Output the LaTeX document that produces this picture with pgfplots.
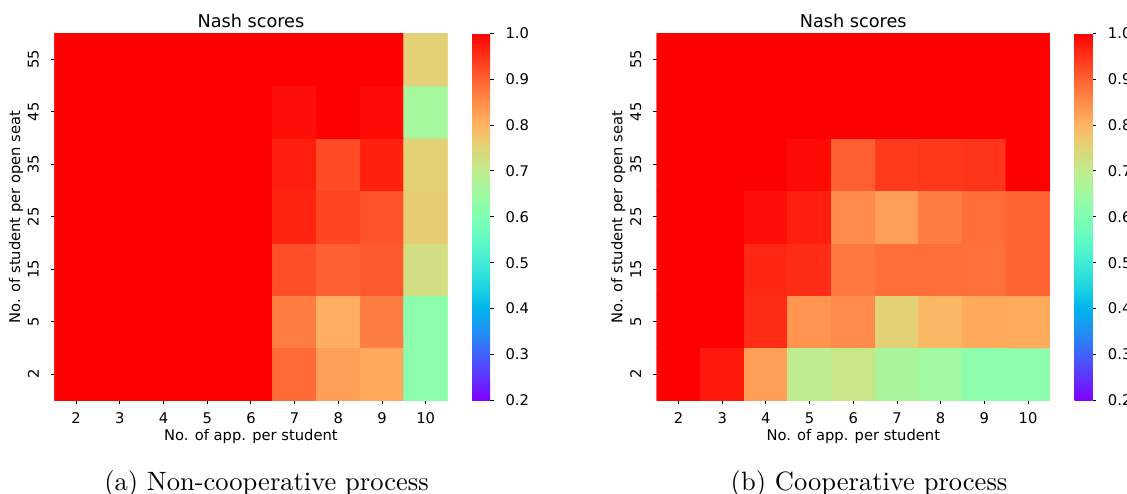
\documentclass[border=0pt]{standalone}
\usepackage{fontspec}
\usepackage{pgfplots}
\pgfplotsset{compat=1.18}
\usepackage{pgfplotstable}
\newfontfamily\dv{DejaVu Sans}
\newcommand\tickfont{\dv\fontsize{5.55}{6.5}\selectfont}
\newcommand\titlefont{\dv\fontsize{6.66}{8}\selectfont}

\pgfplotstableread{
x y c
0 0 1
1 0 1
2 0 1
3 0 1
4 0 1
5 0 0.889
6 0 0.827
7 0 0.814
8 0 0.620
0 1 1
1 1 1
2 1 1
3 1 1
4 1 1
5 1 0.869
6 1 0.807
7 1 0.869
8 1 0.620
0 2 1
1 2 1
2 2 1
3 2 1
4 2 1
5 2 0.922
6 2 0.902
7 2 0.910
8 2 0.728
0 3 1
1 3 1
2 3 1
3 3 1
4 3 1
5 3 0.965
6 3 0.931
7 3 0.914
8 3 0.762
0 4 1
1 4 1
2 4 1
3 4 1
4 4 1
5 4 0.970
6 4 0.924
7 4 0.968
8 4 0.755
0 5 1
1 5 1
2 5 1
3 5 1
4 5 1
5 5 0.985
6 5 1.000
7 5 0.990
8 5 0.660
0 6 1
1 6 1
2 6 1
3 6 1
4 6 1
5 6 1
6 6 1
7 6 1
8 6 0.755
}\nonCoop

\pgfplotstableread{
x y c
0 0 1
1 0 0.975
2 0 0.827
3 0 0.698
4 0 0.714
5 0 0.667
6 0 0.651
7 0 0.620
8 0 0.620
0 1 1
1 1 1
2 1 0.957
3 1 0.840
4 1 0.852
5 1 0.755
6 1 0.795
7 1 0.814
8 1 0.812
0 2 1
1 2 1
2 2 0.960
3 2 0.955
4 2 0.875
5 2 0.887
6 2 0.887
7 2 0.885
8 2 0.897
0 3 1
1 3 1
2 3 0.985
3 3 0.970
4 3 0.852
5 3 0.827
6 3 0.869
7 3 0.887
8 3 0.897
0 4 1
1 4 1
2 4 1
3 4 0.990
4 4 0.902
5 4 0.940
6 4 0.945
7 4 0.948
8 4 1
0 5 1
1 5 1
2 5 1
3 5 1
4 5 1
5 5 1
6 5 1
7 5 1
8 5 1
0 6 1
1 6 1
2 6 1
3 6 1
4 6 1
5 6 1
6 6 1
7 6 1
8 6 1
}\coop

\pgfplotsset{
  colormap={mplrainbow}{
    rgb255=(128,0,255) rgb255=(96,50,254) rgb255=(64,98,250) rgb255=(32,142,244)
    rgb255=(0,180,236) rgb255=(32,212,225) rgb255=(64,236,212) rgb255=(96,250,197)
    rgb255=(128,255,180) rgb255=(159,250,162) rgb255=(191,236,142) rgb255=(223,212,120)
    rgb255=(255,180,98) rgb255=(255,142,74) rgb255=(255,98,50) rgb255=(255,50,25)
    rgb255=(255,0,0)},
  heat/.style={
    scale only axis, width=148.3pt, height=138.4pt,
    anchor=south west,
    xmin=-0.5, xmax=8.5, ymin=-0.5, ymax=6.5,
    xtick={0,...,8}, xticklabels={2,3,4,5,6,7,8,9,10},
    ytick={0,...,6}, yticklabels={2,5,15,25,35,45,55},
    axis line style={draw=none},
    tick align=outside, major tick length=1.32pt,
    tick style={black, line width=0.35pt},
    xtick pos=bottom, ytick pos=left,
    ticklabel style={font=\tickfont, inner sep=0pt},
    xticklabel style={anchor=north, yshift=-3pt},
    yticklabel style={rotate=90, anchor=south, yshift=4.3pt},
    title={Nash scores},
    every axis title/.style={at={(axis description cs:0.5,1)}, anchor=base, yshift=2pt, font=\titlefont},
    xlabel={No. of app. per student},
    every axis x label/.style={at={(axis description cs:0.5,0)}, anchor=base, yshift=-15.2pt, font=\tickfont},
    ylabel={No. of student per open seat},
    every axis y label/.style={at={(axis description cs:0,0.5)}, rotate=90, anchor=base, yshift=12.9pt, font=\tickfont},
    colormap name=mplrainbow,
    point meta min=0.2, point meta max=1.0,
    colorbar,
    colorbar style={
      at={(parent axis.north east)}, anchor=north west, xshift=0.74pt,
      scale only axis, width=6.79pt, height=138.4pt,
      ytick={0.2,0.3,0.4,0.5,0.6,0.7,0.8,0.9,1.0},
      axis line style={draw=none},
      tick align=outside, major tick length=1.32pt,
      tick style={black, line width=0.35pt},
      ytick pos=right, yticklabel pos=right,
      yticklabel style={font=\tickfont, inner sep=0pt, anchor=west, xshift=4.3pt,
        /pgf/number format/.cd, fixed, fixed zerofill, precision=1, assume math mode=true},
    },
  }
}

\begin{document}
\begin{tikzpicture}
\begin{axis}[heat, at={(20.48pt,34.95pt)}]
\addplot[matrix plot*, mesh/cols=9, mesh/rows=7, point meta=explicit] table[x=x, y=y, meta=c] {\nonCoop};
\end{axis}
\begin{axis}[heat, at={(247.6pt,34.95pt)}]
\addplot[matrix plot*, mesh/cols=9, mesh/rows=7, point meta=explicit] table[x=x, y=y, meta=c] {\coop};
\end{axis}
\node[anchor=base, font=\fontsize{10}{12}\selectfont] at (100.5pt,1.13pt) {(a) Non-cooperative process};
\node[anchor=base, font=\fontsize{10}{12}\selectfont] at (327.7pt,1.13pt) {(b) Cooperative process};
\pgfresetboundingbox
\path (0,0) rectangle (424.96pt,185.9pt);
\end{tikzpicture}
\end{document}
